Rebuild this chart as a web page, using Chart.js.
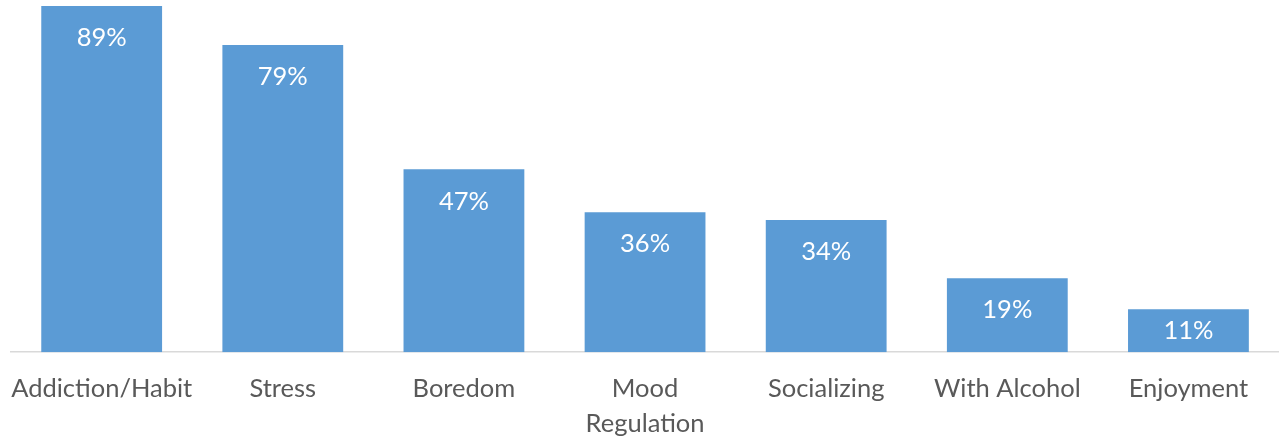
<!DOCTYPE html>
<html>
<head>
<meta charset="utf-8">
<script src="https://cdn.jsdelivr.net/npm/chart.js@4/dist/chart.umd.min.js"></script>
<style>
  html, body { margin: 0; padding: 0; background: #ffffff; overflow: hidden; }
  #wrap { width: 1279px; height: 452px; position: relative; }
</style>
</head>
<body>
<div id="wrap"><canvas id="chart"></canvas></div>
<script>
const categories = ["Addiction/Habit", "Stress", "Boredom", ["Mood", "Regulation"], "Socializing", "With Alcohol", "Enjoyment"];
const percentValues = [89, 79, 47, 36, 34, 19, 11];

const BAR_COLOR = "#5b9bd5";
const LABEL_COLOR = "#595959";
const FONT = "Lato, 'Open Sans', sans-serif";

// Prozentwerte oben in den Balken
const valueLabels = {
    id: "valueLabels",
    afterDatasetsDraw(chart) {
        const { ctx } = chart;
        const meta = chart.getDatasetMeta(0);
        ctx.save();
        ctx.fillStyle = "#ffffff";
        ctx.font = "25.5px " + FONT;
        ctx.textAlign = "center";
        ctx.textBaseline = "middle";
        meta.data.forEach((bar, i) => {
            const offset = Math.min(32, (bar.base - bar.y) / 2);
            ctx.fillText(percentValues[i] + "%", bar.x, bar.y + offset);
        });
        ctx.restore();
    }
};

new Chart(document.getElementById("chart"), {
    type: "bar",
    data: {
        labels: categories,
        datasets: [{
            data: percentValues,
            backgroundColor: BAR_COLOR,
            borderWidth: 0,
            categoryPercentage: 1,
            barPercentage: 0.667
        }]
    },
    options: {
        responsive: true,
        maintainAspectRatio: false,
        animation: false,
        layout: { padding: { left: 2, right: 0, top: 0, bottom: 0 } },
        plugins: {
            legend: { display: false },
            tooltip: { enabled: false }
        },
        scales: {
            x: {
                grid: { display: false },
                border: { display: true, color: "#d9d9d9", width: 1.5 },
                ticks: {
                    color: LABEL_COLOR,
                    font: { family: FONT, size: 25.5, lineHeight: 1.37 },
                    maxRotation: 0,
                    autoSkip: false,
                    padding: 11
                }
            },
            y: {
                display: false,
                min: 0,
                max: 90.55
            }
        }
    },
    plugins: [valueLabels]
});
</script>
</body>
</html>
